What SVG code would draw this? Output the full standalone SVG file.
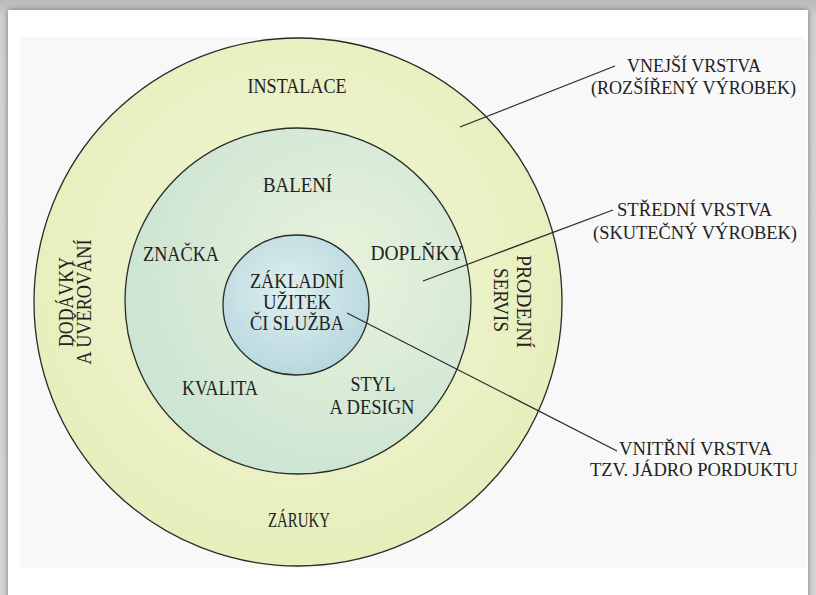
<svg xmlns="http://www.w3.org/2000/svg" width="816" height="595" viewBox="0 0 816 595">
  <defs>
    <radialGradient id="gOuter" cx="50%" cy="45%" r="55%">
      <stop offset="0" stop-color="#f3f7d8"/>
      <stop offset="1" stop-color="#e6eebb"/>
    </radialGradient>
    <radialGradient id="gMid" cx="62%" cy="42%" r="60%">
      <stop offset="0" stop-color="#e9f3dc"/>
      <stop offset="1" stop-color="#cde5d3"/>
    </radialGradient>
    <radialGradient id="gInner" cx="45%" cy="40%" r="60%">
      <stop offset="0" stop-color="#deefef"/>
      <stop offset="1" stop-color="#b8d8de"/>
    </radialGradient>
    <linearGradient id="gBg" x1="0" y1="0" x2="0" y2="1">
      <stop offset="0" stop-color="#b9b9b9"/>
      <stop offset="0.03" stop-color="#d2d2d2"/>
      <stop offset="1" stop-color="#d6d6d6"/>
    </linearGradient>
    <filter id="shadow" x="-5%" y="-5%" width="110%" height="110%">
      <feGaussianBlur in="SourceAlpha" stdDeviation="3"/>
      <feOffset dx="0" dy="0" result="b"/>
      <feFlood flood-color="#000" flood-opacity="0.45"/>
      <feComposite in2="b" operator="in"/>
      <feMerge><feMergeNode/><feMergeNode in="SourceGraphic"/></feMerge>
    </filter>
  </defs>
  <style>
    text { font-family: "Liberation Serif", "Times New Roman", serif; font-size: 20px; fill: #222; }
    .c { text-anchor: middle; }
    .side { font-size: 19px; }
    .ring { stroke: #2a2a2a; stroke-width: 1.3; }
    .lead { stroke: #2a2a2a; stroke-width: 1.2; fill: none; }
  </style>

  <rect x="0" y="0" width="816" height="595" fill="url(#gBg)"/>
  <rect x="8" y="10" width="800" height="600" fill="#ffffff" filter="url(#shadow)"/>
  <rect x="20" y="37" width="786" height="531" fill="#f8f8f8"/>

  <g id="outer-layer">
    <circle class="ring" cx="298" cy="302" r="264" fill="url(#gOuter)"/>
  </g>
  <g id="middle-layer">
    <circle class="ring" cx="298" cy="301" r="173" fill="url(#gMid)"/>
  </g>
  <g id="inner-layer">
    <ellipse class="ring" cx="296" cy="305" rx="73" ry="70" fill="url(#gInner)"/>
  </g>

  <g id="connectors">
    <line class="lead" x1="460" y1="127" x2="615" y2="66"/>
    <line class="lead" x1="423" y1="281" x2="613" y2="210"/>
    <line class="lead" x1="347" y1="313" x2="617" y2="451"/>
  </g>

  <g id="label-instalace"><text class="c" x="297" y="93" textLength="99" lengthAdjust="spacingAndGlyphs">INSTALACE</text></g>
  <g id="label-zaruky"><text class="c" x="299" y="527" textLength="62" lengthAdjust="spacingAndGlyphs">ZÁRUKY</text></g>
  <g id="label-dodavky">
    <text class="c" transform="translate(73,302) rotate(-90)" x="0" y="0" textLength="90" lengthAdjust="spacingAndGlyphs">DODÁVKY</text>
    <text class="c" transform="translate(91,302) rotate(-90)" x="0" y="0" textLength="125" lengthAdjust="spacingAndGlyphs">A ÚVĚROVÁNÍ</text>
  </g>
  <g id="label-servis">
    <text class="c" transform="translate(517,301.5) rotate(90)" x="0" y="0" textLength="93" lengthAdjust="spacingAndGlyphs">PRODEJNÍ</text>
    <text class="c" transform="translate(494,300) rotate(90)" x="0" y="0" textLength="64" lengthAdjust="spacingAndGlyphs">SERVIS</text>
  </g>

  <g id="label-baleni"><text class="c" x="297.5" y="192" textLength="69" lengthAdjust="spacingAndGlyphs">BALENÍ</text></g>
  <g id="label-znacka"><text class="c" x="181" y="261" textLength="76" lengthAdjust="spacingAndGlyphs">ZNAČKA</text></g>
  <g id="label-doplnky"><text class="c" x="417" y="260" textLength="93" lengthAdjust="spacingAndGlyphs">DOPLŇKY</text></g>
  <g id="label-kvalita"><text class="c" x="220" y="395" textLength="76" lengthAdjust="spacingAndGlyphs">KVALITA</text></g>
  <g id="label-styl">
    <text class="c" x="373" y="391" textLength="45" lengthAdjust="spacingAndGlyphs">STYL</text>
    <text class="c" x="372" y="414" textLength="85" lengthAdjust="spacingAndGlyphs">A DESIGN</text>
  </g>

  <g id="label-core">
    <text class="c" x="297" y="288" textLength="94" lengthAdjust="spacingAndGlyphs">ZÁKLADNÍ</text>
    <text class="c" x="297" y="309" textLength="68" lengthAdjust="spacingAndGlyphs">UŽITEK</text>
    <text class="c" x="297" y="330" textLength="94" lengthAdjust="spacingAndGlyphs">ČI SLUŽBA</text>
  </g>

  <g id="label-outer-layer">
    <text class="side" x="627" y="72" textLength="134" lengthAdjust="spacingAndGlyphs">VNEJŠÍ VRSTVA</text>
    <text class="side" x="591" y="94" textLength="205" lengthAdjust="spacingAndGlyphs">(ROZŠÍŘENÝ VÝROBEK)</text>
  </g>
  <g id="label-middle-layer">
    <text class="side" x="617" y="216" textLength="155" lengthAdjust="spacingAndGlyphs">STŘEDNÍ VRSTVA</text>
    <text class="side" x="593" y="239" textLength="204" lengthAdjust="spacingAndGlyphs">(SKUTEČNÝ VÝROBEK)</text>
  </g>
  <g id="label-inner-layer">
    <text class="side" x="619" y="455" textLength="153" lengthAdjust="spacingAndGlyphs">VNITŘNÍ VRSTVA</text>
    <text class="side" x="590" y="476" textLength="208" lengthAdjust="spacingAndGlyphs">TZV. JÁDRO PORDUKTU</text>
  </g>
</svg>
